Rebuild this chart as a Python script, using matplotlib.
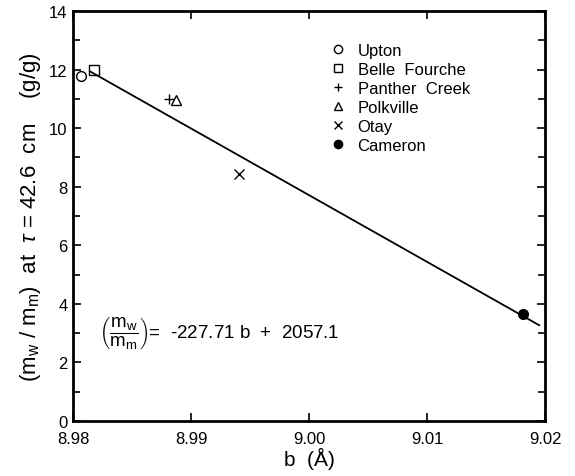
import matplotlib
matplotlib.use("Agg")
import matplotlib.pyplot as plt
from matplotlib.ticker import MultipleLocator

plt.rcParams['font.family'] = ['Liberation Sans', 'DejaVu Sans']
plt.rcParams['mathtext.fontset'] = 'custom'
plt.rcParams['mathtext.rm'] = 'Liberation Sans'
plt.rcParams['mathtext.it'] = 'Liberation Sans:italic'

# data
sites = ["Upton", "Belle  Fourche", "Panther  Creek", "Polkville", "Otay", "Cameron"]
b_vals = [8.9807, 8.9818, 8.9881, 8.9887, 8.9941, 9.0181]
ratio_vals = [11.77, 11.98, 10.99, 10.96, 8.43, 3.65]
markers = ["o", "s", "+", "^", "x", "o"]
filled = [False, False, False, False, False, True]

slope = -227.71
intercept = 2057.1
fit_range = [8.9815, 9.0195]

x_ticks = [8.98, 8.99, 9.00, 9.01, 9.02]
x_labels = ["8.98", "8.99", "9.00", "9.01", "9.02"]

fig = plt.figure(figsize=(5.75, 4.77), dpi=100)
ax = fig.add_axes([0.127, 0.1153, 0.821, 0.8597])

fit_y = [slope * b + intercept for b in fit_range]
ax.plot(fit_range, fit_y, color="black", lw=1.3, zorder=1)

for name, bx, ry, m, f in zip(sites, b_vals, ratio_vals, markers, filled):
    face = "black" if f else "none"
    ax.plot(bx, ry, linestyle="none", marker=m, markersize=7,
            markerfacecolor=face, markeredgecolor="black",
            markeredgewidth=1.0, label=name, zorder=3)

leg = ax.legend(loc="upper left", bbox_to_anchor=(0.548, 0.923), frameon=False,
                fontsize=12, handlelength=0.8, handletextpad=0.75,
                labelspacing=0.24, borderaxespad=0, borderpad=0,
                markerscale=0.85)

ax.text(8.9822, 3.05,
        r"$\left(\dfrac{\mathregular{m_w}}{\mathregular{m_m}}\right)$=  -227.71 b  +  2057.1",
        fontsize=13.5, va="center", ha="left")

ax.set_xlim(8.98, 9.02)
ax.set_ylim(0, 14)
ax.set_xticks(x_ticks)
ax.set_xticklabels(x_labels)
ax.yaxis.set_major_locator(MultipleLocator(2))
ax.yaxis.set_minor_locator(MultipleLocator(1))
ax.tick_params(which="both", direction="in", top=True, right=True,
               labelsize=12, width=1.2, pad=4)
ax.tick_params(axis="x", which="major", pad=7)
ax.tick_params(which="major", length=6)
ax.tick_params(which="minor", length=5)
for sp in ax.spines.values():
    sp.set_linewidth(2)

ax.set_xlabel("b  (Å)", fontsize=15, labelpad=1)
ax.set_ylabel(r"($\mathregular{m_w}$ / $\mathregular{m_m}$)  at  $\tau$ = 42.6  cm    (g/g)",
              fontsize=16, labelpad=4)

fig.savefig("out.png", dpi=100)
